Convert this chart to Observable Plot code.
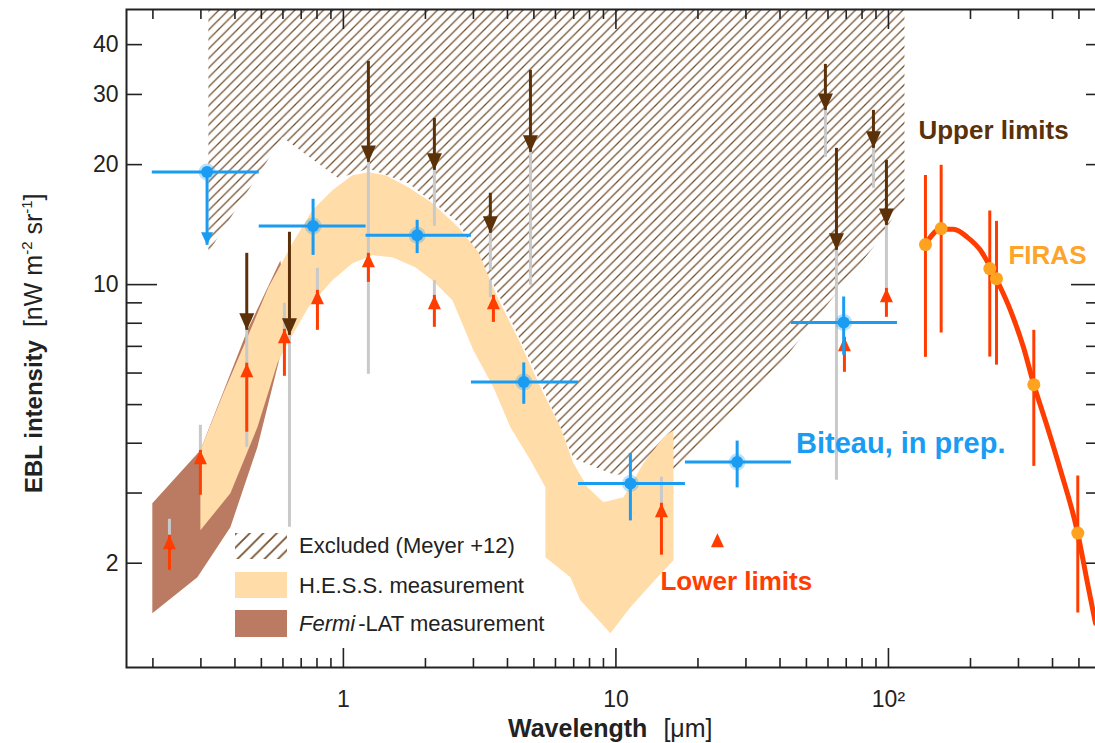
<!DOCTYPE html>
<html><head><meta charset="utf-8">
<script src="https://cdn.jsdelivr.net/npm/d3@7"></script>
<script src="https://cdn.jsdelivr.net/npm/@observablehq/plot@0.6"></script>
<style>
html,body{margin:0;padding:0;background:#fff;}
#chart{width:1095px;height:743px;overflow:hidden;position:relative;}
#chart svg{display:block;}
</style></head><body><div id="chart"></div>
<script>
// ---------- axis ticks ----------
const xDomain = [0.16, 605];
const yDomain = [1.095, 49];
const xMajorTicks = [1, 10, 100];
const xMinorTicks = [0.2,0.3,0.4,0.5,0.6,0.7,0.8,0.9,2,3,4,5,6,7,8,9,20,30,40,50,60,70,80,90,200,300,400,500];
const yMajorTicks = [10];
const yMinorTicks = [2,3,4,5,6,7,8,9,20,30,40];
const yTickLabels = [2,10,20,30,40];

// ---------- Excluded region (Meyer +12) outline ----------
const exclX = [0.3196,0.3196,0.5972,0.9587,1.235,1.732,2.642,3.674,5.284,6.982,9.959,12.30,16.26,26.32,35.97,64.45,88.1,114.5,114.5];
const exclY = [60,12.05,23.41,18.48,19.57,17.95,14.33,9.566,5.689,3.668,3.325,3.421,3.421,4.755,5.754,9.51,12.41,16.27,60];

// ---------- H.E.S.S. band outline ----------
const hessX = [0.2987,0.3627,0.4443,0.5306,0.65,0.7695,0.911,1.079,1.235,1.426,1.732,2.121,2.642,3.129,3.674,4.462,5.284,6.257,6.982,7.862,8.999,10.66,12.62,14.94,16.26,
  16.26,14.2,11.3,9.546,7.406,6.808,5.512,5.512,4.857,4.101,3.552,3.0,2.512,2.121,1.837,1.513,1.277,1.079,0.911,0.744,0.6125,0.5726,0.4835,0.3848,0.2987];
const hessY = [3.84,5.34,7.38,9.85,12.69,15.36,17.24,18.8,19.13,18.8,17.54,15.99,13.92,12.05,9.29,7.13,5.525,4.386,3.563,3.10,2.844,2.928,3.563,4.14,4.31,
  2.035,1.845,1.551,1.335,1.615,1.845,2.07,3.10,3.626,4.386,5.525,6.84,9.13,10.25,11.05,11.71,11.84,11.31,10.25,8.77,6.96,6.35,4.386,2.996,2.419];

// ---------- Fermi-LAT band outline ----------
const fermiX = [0.199,0.2987,0.4443,0.587,0.639,0.587,0.4835,0.3848,0.2912,0.199];
const fermiY = [2.83,3.84,7.68,11.5,7.46,6.65,3.91,2.462,1.845,1.498];

// ---------- grey uncertainty segments ----------
const grayX  = [0.23,0.2987,0.442,0.6075,0.634,0.803,1.235,2.157,2.157,3.461,3.461,4.857,14.69,58.7,64.45,88.1,98.3];
const grayLo = [2.35,3.84,3.907,7.725,2.462,9.676,5.957,14.0,9.40,10.86,9.29,9.96,2.828,20.86,3.23,17.44,9.79];
const grayHi = [2.578,4.437,7.68,8.977,7.462,10.99,20.26,19.35,10.25,13.45,10.25,21.47,3.286,27.36,12.19,21.97,14.08];

// ---------- upper limits (brown) ----------
const ulX    = [0.442,0.634,1.235,2.157,3.461,4.857,58.7,64.45,88.1,98.3];
const ulFrom = [11.98,13.53,36.31,26.13,16.95,34.48,35.69,21.97,27.36,20.5];
const ulTo   = [7.68,7.46,20.26,19.35,13.45,21.47,27.36,12.19,21.97,14.08];

// ---------- lower limits (red) ----------
const llX    = [0.23,0.2987,0.442,0.6075,0.803,1.235,2.157,3.552,14.69,23.58,68.94,98.3];
const llFrom = [1.92,2.961,4.262,5.888,7.68,10.13,7.814,8.04,2.095,2.378,6.026,8.279];
const llTo   = [2.35,3.84,6.35,7.725,9.676,11.98,9.40,9.40,2.828,2.378,7.375,9.79];

// ---------- Biteau, in prep. ----------
const bitX   = [0.316,0.774,1.865,4.59,11.3,27.85,68.5];
const bitY   = [19.16,14.03,13.3,5.70,3.17,3.59,8.03];
const bitXLo = [0.199,0.491,1.211,2.95,7.29,17.99,44.05];
const bitXHi = [0.491,1.211,2.95,7.29,17.99,44.05,107.9];
const bitYLo = [12.55,11.84,11.96,5.01,2.554,3.09,6.65];
const bitYHi = [19.16,16.37,14.5,6.36,3.77,4.05,9.31];
const bitIsUL = [true,false,false,false,false,false,false];

// ---------- FIRAS ----------
const firasX  = [136.7,156.1,235.4,249.1,341.5,495.2];
const firasY  = [12.6,13.82,10.97,10.35,5.61,2.38];
const firasLo = [6.57,7.56,6.58,6.28,3.50,1.50];
const firasHi = [18.78,19.92,15.30,14.41,7.68,3.31];
const fitX = [136.7,155.2,173.2,195.0,217.6,236.8,253.3,280.4,312.9,340.4,383.2,427.9,494,537.5,575.1];
const fitY = [12.62,13.76,13.76,13.14,12.19,11.05,10.08,8.62,6.96,5.656,4.387,3.422,2.393,1.782,1.414];

// ---------- annotations ----------
const annText = ["Upper limits","FIRAS","Biteau, in prep.","Lower limits"];
const annX = [128.8,275.7,45.8,14.57];
const annY = [24.37,11.79,3.986,1.797];

// ---------- legend ----------
const legendLabels = ["Excluded (Meyer +12)","H.E.S.S. measurement","Fermi-LAT measurement"];

// ================= build =================
const blue="#1a9cf2", brown="#5b3109", red="#ff3d00", orange="#ffa21f", gray="#c9c9c9";
const hessColor="#ffdca8", fermiColor="#bb7b62", hatchColor="#74502f", ink="#222";
const FONT = "'Liberation Sans', Arial, Helvetica, sans-serif";

const excl  = exclX.map((x,i)=>({x, y: exclY[i]}));
const hess  = hessX.map((x,i)=>({x, y: hessY[i]}));
const fermi = fermiX.map((x,i)=>({x, y: fermiY[i]}));
const grays = grayX.map((x,i)=>({x, lo: grayLo[i], hi: grayHi[i]}));
const uls   = ulX.map((x,i)=>({x, from: ulFrom[i], to: ulTo[i]}));
const lls   = llX.map((x,i)=>({x, from: llFrom[i], to: llTo[i]}));
const bit   = bitX.map((x,i)=>({x, y: bitY[i], xlo: bitXLo[i], xhi: bitXHi[i], ylo: bitYLo[i], yhi: bitYHi[i], ul: bitIsUL[i]}));
const firas = firasX.map((x,i)=>({x, y: firasY[i], lo: firasLo[i], hi: firasHi[i]}));
const fit   = fitX.map((x,i)=>({x, y: fitY[i]}));
const ann   = annText.map((t,i)=>({t, x: annX[i], y: annY[i]}));

const headDown = (w,h)=>({draw(c){c.moveTo(0,0);c.lineTo(-w/2,-h);c.lineTo(w/2,-h);c.closePath();}});
const headUp   = (w,h)=>({draw(c){c.moveTo(0,0);c.lineTo(-w/2,h);c.lineTo(w/2,h);c.closePath();}});

const tickOpts = {stroke: ink, strokeWidth: 1.6, fill: "none", label: null};

const plot = Plot.plot({
  width: 1095, height: 743,
  marginLeft: 126, marginRight: -6, marginTop: 9, marginBottom: 76,
  x: {type: "log", domain: xDomain},
  y: {type: "log", domain: yDomain},
  style: {fontFamily: FONT, fontSize: "23px", color: ink, background: "white"},
  marks: [
    Plot.line(excl, {x: "x", y: "y", fill: "url(#hatch)", stroke: "none", clip: true}),
    Plot.line(fermi, {x: "x", y: "y", fill: fermiColor, stroke: "none"}),
    Plot.line(hess, {x: "x", y: "y", fill: hessColor, stroke: "none"}),
    Plot.ruleX(grays, {x: "x", y1: "lo", y2: "hi", stroke: gray, strokeWidth: 3}),
    Plot.ruleX(uls, {x: "x", y1: "from", y2: "to", stroke: brown, strokeWidth: 3}),
    Plot.dot(uls, {x: "x", y: "to", symbol: headDown(15,17), fill: brown, stroke: "none"}),
    Plot.ruleX(lls, {x: "x", y1: "from", y2: "to", stroke: red, strokeWidth: 3}),
    Plot.dot(lls, {x: "x", y: "to", symbol: headUp(13,14), fill: red, stroke: "none"}),
    Plot.ruleY(bit, {y: "y", x1: "xlo", x2: "xhi", stroke: blue, strokeWidth: 3}),
    Plot.ruleX(bit, {x: "x", y1: "ylo", y2: "yhi", stroke: blue, strokeWidth: 3}),
    Plot.dot(bit.filter(d => d.ul), {x: "x", y: "ylo", symbol: headDown(12,13), fill: blue, stroke: "none"}),
    Plot.dot(bit, {x: "x", y: "y", r: 8.5, fill: blue, fillOpacity: 0.3, stroke: "none"}),
    Plot.dot(bit, {x: "x", y: "y", r: 6, fill: blue, stroke: "none"}),
    Plot.ruleX(firas, {x: "x", y1: "lo", y2: "hi", stroke: red, strokeWidth: 3}),
    Plot.line(fit, {x: "x", y: "y", stroke: red, strokeWidth: 5, curve: "monotone-x"}),
    Plot.dot(firas, {x: "x", y: "y", r: 6.5, fill: orange, stroke: "none"}),
    Plot.text(ann.filter(d => d.t === "Upper limits"), {x: "x", y: "y", text: "t", fill: brown, fontSize: 26, fontWeight: "bold", textAnchor: "start"}),
    Plot.text(ann.filter(d => d.t === "FIRAS"), {x: "x", y: "y", text: "t", fill: "#ffa42a", fontSize: 26, fontWeight: "bold", textAnchor: "start"}),
    Plot.text(ann.filter(d => d.t.startsWith("Biteau")), {x: "x", y: "y", text: "t", fill: blue, fontSize: 29, fontWeight: "bold", textAnchor: "start"}),
    Plot.text(ann.filter(d => d.t === "Lower limits"), {x: "x", y: "y", text: "t", fill: red, fontSize: 26, fontWeight: "bold", textAnchor: "start"}),
    // ticks (inward)
    Plot.axisX(xMajorTicks, {...tickOpts, anchor: "bottom", tickSize: -19}),
    Plot.axisX(xMinorTicks, {...tickOpts, anchor: "bottom", tickSize: -9}),
    Plot.axisX(xMajorTicks, {...tickOpts, anchor: "top", tickSize: -19}),
    Plot.axisX(xMinorTicks, {...tickOpts, anchor: "top", tickSize: -9}),
    Plot.axisY(yMajorTicks, {...tickOpts, anchor: "left", tickSize: -31}),
    Plot.axisY(yMinorTicks, {...tickOpts, anchor: "left", tickSize: -16}),
    Plot.axisY(yMajorTicks, {...tickOpts, anchor: "right", tickSize: -31}),
    Plot.axisY(yMinorTicks, {...tickOpts, anchor: "right", tickSize: -16}),
    // tick labels
    Plot.axisX(xMajorTicks, {anchor: "bottom", tickSize: 0, tickPadding: 23, fontSize: 23, fill: ink, label: null,
      tickFormat: d => d === 100 ? "10\u00B2" : String(d)}),
    Plot.axisY(yTickLabels, {anchor: "left", tickSize: 0, tickPadding: 8, fontSize: 23, fill: ink, label: null,
      tickFormat: d => String(d)}),
    Plot.frame({stroke: ink, strokeWidth: 2})
  ]
});

document.getElementById("chart").appendChild(plot);
const svg = d3.select(plot);

// hatch patterns
const defs = svg.insert("defs", ":first-child");
function hatch(id, s, w) {
  const p = defs.append("pattern").attr("id", id).attr("patternUnits", "userSpaceOnUse")
    .attr("width", s).attr("height", s);
  p.append("path").attr("d", `M${-s/4},${s/4} L${s/4},${-s/4} M0,${s} L${s},0 M${s*3/4},${s*5/4} L${s*5/4},${s*3/4}`)
    .attr("stroke", hatchColor).attr("stroke-width", w).attr("fill", "none");
}
hatch("hatch", 9.5, 1.3);
hatch("hatchLegend", 13.5, 1.8);

// legend
const lg = svg.append("g").attr("font-family", FONT).attr("font-size", 22).attr("fill", ink).attr("text-anchor", "start");
lg.append("rect").attr("x", 235).attr("y", 533).attr("width", 52).attr("height", 26).attr("fill", "url(#hatchLegend)");
lg.append("rect").attr("x", 235).attr("y", 572).attr("width", 52).attr("height", 26).attr("fill", hessColor);
lg.append("rect").attr("x", 235).attr("y", 610).attr("width", 52).attr("height", 27).attr("fill", fermiColor);
lg.append("text").attr("x", 299).attr("y", 553).text(legendLabels[0]);
lg.append("text").attr("x", 299).attr("y", 593).text(legendLabels[1]);
const ft = lg.append("text").attr("x", 299).attr("y", 631);
const [fa, fb] = legendLabels[2].split("-");
ft.append("tspan").attr("font-style", "italic").text(fa);
ft.append("tspan").attr("dx", 3).text("-" + fb);

// axis titles
const xt = svg.append("text").attr("font-family", FONT).attr("font-size", 25).attr("fill", ink)
  .attr("text-anchor", "start").attr("x", 508).attr("y", 737);
xt.append("tspan").attr("font-weight", "bold").text("Wavelength");
xt.append("tspan").attr("dx", 16).text("[\u03BCm]");

const yt = svg.append("text").attr("font-family", FONT).attr("font-size", 25).attr("fill", ink)
  .attr("text-anchor", "start").attr("transform", "translate(42,493) rotate(-90)");
yt.append("tspan").attr("font-weight", "bold").attr("font-size", 24).text("EBL intensity");
yt.append("tspan").attr("dx", 13).text("[nW m");
yt.append("tspan").attr("font-size", 15).attr("dy", -10).text("-2");
yt.append("tspan").attr("dy", 10).text(" sr");
yt.append("tspan").attr("font-size", 15).attr("dy", -10).text("-1");
yt.append("tspan").attr("dy", 10).text("]");
</script></body></html>
